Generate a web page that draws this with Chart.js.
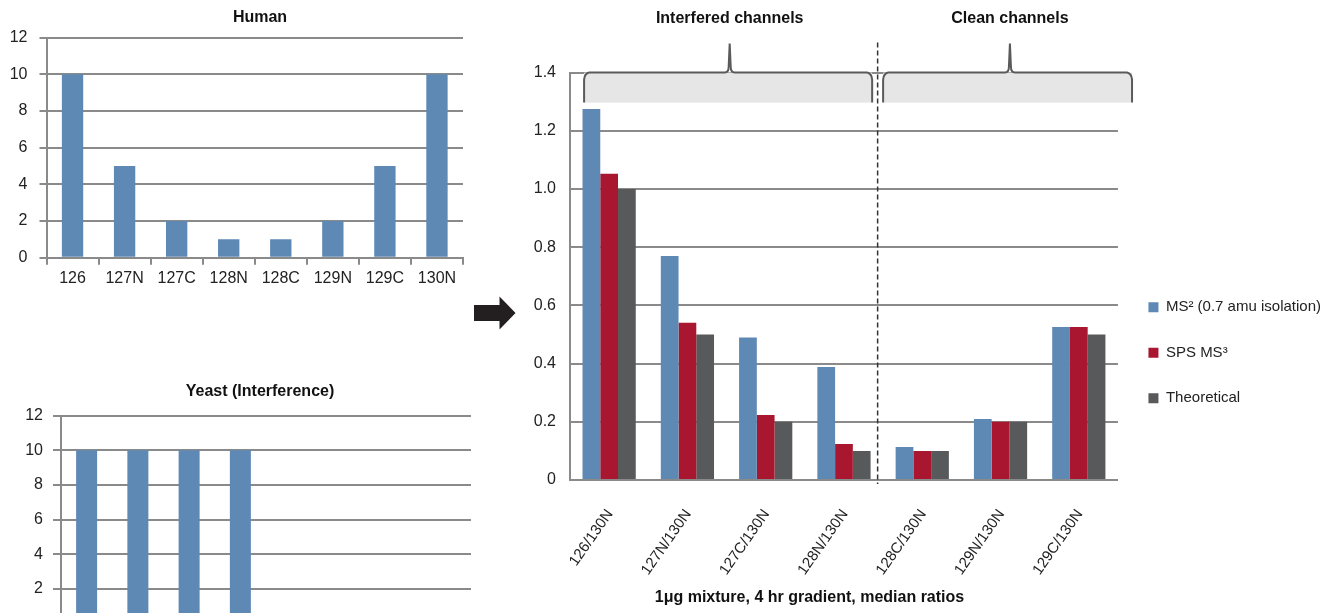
<!DOCTYPE html>
<html>
<head>
<meta charset="utf-8">
<script src="https://cdn.jsdelivr.net/npm/chart.js@4.4.1/dist/chart.umd.min.js"></script>
<style>
  html, body { margin: 0; padding: 0; background: #fff; }
  body { width: 1324px; height: 613px; overflow: hidden; position: relative; }
  canvas, svg { position: absolute; }
  #human { left: 0; top: 0; }
  #yeast { left: 0; top: 370px; }
  #ratios { left: 288px; top: 0; }
  #arrow { left: 0; top: 0; }
</style>
</head>
<body>
<canvas id="human" width="520" height="295"></canvas>
<canvas id="yeast" width="520" height="295"></canvas>
<svg id="arrow" width="530" height="340">
  <polygon points="474,305 499.5,305 499.5,296.5 515.5,313 499.5,329.5 499.5,321 474,321" fill="#231f20"/>
</svg>
<canvas id="ratios" width="1044" height="613"></canvas>
<script>
// Reporter channel intensities of the two proteomes
const channels = ['126', '127N', '127C', '128N', '128C', '129N', '129C', '130N'];
const humanValues = [10, 5, 2, 1, 1, 2, 5, 10];
const yeastValues = [10, 10, 10, 10, 0, 0, 0, 0];

// Measured and expected ratios to channel 130N
const ratioLabels = ['126/130N', '127N/130N', '127C/130N', '128N/130N', '128C/130N', '129N/130N', '129C/130N'];
const ms2Values = [1.275, 0.77, 0.49, 0.388, 0.113, 0.21, 0.526];
const spsMs3Values = [1.052, 0.54, 0.223, 0.124, 0.1, 0.2, 0.526];
const theoreticalValues = [1.0, 0.5, 0.2, 0.1, 0.1, 0.2, 0.5];
const seriesNames = ['MS\u00B2 (0.7 amu isolation)', 'SPS MS\u00B3', 'Theoretical'];

const groupNames = ['Interfered channels', 'Clean channels'];
const chartTitles = ['Human', 'Yeast (Interference)'];
const caption = '1\u03BCg mixture, 4 hr gradient, median ratios';
const smallTicks = [0, 12, 2];      // min, max, step
const ratioTicks = [0, 1.4, 0.2];

const FONT = '"Liberation Sans", Arial, sans-serif';
const GRID = '#8a8a8a';
const TEXT = '#222222';
const BLUE = '#5e89b5';
const RED = '#a8172f';
const DARK = '#58595b';

Chart.defaults.font.family = FONT;
Chart.defaults.color = TEXT;

function channelChart(id, title, values, cfg) {
  return new Chart(document.getElementById(id), {
    type: 'bar',
    data: {
      labels: channels,
      datasets: [{ data: values, backgroundColor: BLUE, borderWidth: 0,
                   barPercentage: 0.41, categoryPercentage: 1 }]
    },
    options: {
      responsive: false,
      animation: false,
      layout: { padding: 0 },
      plugins: {
        legend: { display: false },
        tooltip: { enabled: false },
        title: {
          display: true, text: title, color: '#111',
          font: { size: 16, weight: 'bold', family: FONT },
          padding: { top: cfg.titleTop, bottom: cfg.titleBottom }
        }
      },
      scales: {
        x: {
          afterFit: s => { s.height = cfg.xHeight; },
          grid: { offset: true, drawOnChartArea: false, color: GRID, lineWidth: 2, tickLength: 7 },
          border: { color: GRID, width: 2 },
          ticks: { font: { size: 16 }, padding: 4, maxRotation: 0, autoSkip: false }
        },
        y: {
          min: smallTicks[0], max: smallTicks[1],
          afterFit: s => { s.width = cfg.yWidth; },
          grid: { color: GRID, lineWidth: 2, tickLength: cfg.tick },
          border: { color: GRID, width: 2 },
          ticks: { stepSize: smallTicks[2], font: { size: 16 }, padding: cfg.pad }
        },
        // empty margin on the right so the title stays centred on the whole panel
        margin: {
          position: 'right',
          afterFit: s => { s.width = cfg.right; },
          grid: { display: false, drawTicks: false },
          border: { display: false },
          ticks: { display: false }
        }
      }
    }
  });
}

channelChart('human', chartTitles[0], humanValues,
  { right: 57, titleTop: 8, titleBottom: 10.5, xHeight: 37.3, yWidth: 46.5, tick: 7, pad: 12 });
channelChart('yeast', chartTitles[1], yeastValues,
  { right: 49, titleTop: 12.4, titleBottom: 14.1, xHeight: 41.4, yWidth: 61, tick: 8, pad: 10 });

// Bracket over each channel group, the group name above it, and the divider between groups
const bracketPlugin = {
  id: 'groupBrackets',
  afterDatasetsDraw(chart) {
    const { ctx, scales: { x, y }, chartArea } = chart;
    const yTop = y.getPixelForValue(ratioTicks[1]);
    const yBot = yTop + 30;
    const yPeak = yTop - 29;
    const spans = [[-0.32, 3.36, 1.54], [3.5, 6.68, 5.12]];
    ctx.save();
    spans.forEach((sp, i) => {
      const x0 = x.getPixelForValue(sp[0]);
      const x1 = x.getPixelForValue(sp[1]);
      const xm = x.getPixelForValue(sp[2]);
      ctx.fillStyle = '#e6e6e6';
      ctx.fillRect(x0, yTop, x1 - x0, yBot - yTop);
      ctx.beginPath();
      ctx.moveTo(x0, yBot);
      ctx.lineTo(x0, yTop + 7);
      ctx.quadraticCurveTo(x0 + 0.5, yTop + 1, x0 + 5, yTop);
      ctx.lineTo(xm - 5, yTop);
      ctx.quadraticCurveTo(xm - 1, yTop, xm - 1, yTop - 6);
      ctx.lineTo(xm, yPeak);
      ctx.lineTo(xm + 1, yTop - 6);
      ctx.quadraticCurveTo(xm + 1, yTop, xm + 5, yTop);
      ctx.lineTo(x1 - 5, yTop);
      ctx.quadraticCurveTo(x1 - 0.5, yTop + 1, x1, yTop + 7);
      ctx.lineTo(x1, yBot);
      ctx.strokeStyle = '#5a5a5a';
      ctx.lineWidth = 2;
      ctx.stroke();
      ctx.fillStyle = '#111';
      ctx.font = 'bold 16px ' + FONT;
      ctx.textAlign = 'center';
      ctx.textBaseline = 'middle';
      ctx.fillText(groupNames[i], xm, yTop - 53.6);
    });
    const xd = x.getPixelForValue(3.43);
    ctx.beginPath();
    ctx.setLineDash([5, 3]);
    ctx.moveTo(xd, yTop - 30);
    ctx.lineTo(xd, chartArea.bottom + 4);
    ctx.strokeStyle = '#333';
    ctx.lineWidth = 1.5;
    ctx.stroke();
    ctx.restore();
  }
};

// Moves the vertical legend down beside the lower half of the plot
const legendShift = {
  id: 'legendShift',
  afterLayout(chart) {
    chart.legend.top += 76.5;
    chart.legend.bottom += 76.5;
  }
};

new Chart(document.getElementById('ratios'), {
  type: 'bar',
  data: {
    labels: ratioLabels,
    datasets: [
      { label: seriesNames[0], data: ms2Values, backgroundColor: BLUE },
      { label: seriesNames[1], data: spsMs3Values, backgroundColor: RED },
      { label: seriesNames[2], data: theoreticalValues, backgroundColor: DARK }
    ]
  },
  options: {
    responsive: false,
    animation: false,
    datasets: { bar: { barPercentage: 1, categoryPercentage: 0.68, borderWidth: 0 } },
    layout: { padding: { left: 0, right: 1, top: 72.6, bottom: 0 } },
    plugins: {
      tooltip: { enabled: false },
      legend: {
        position: 'right',
        fullSize: false,
        labels: { boxWidth: 10, boxHeight: 10, padding: 30.5, color: TEXT, font: { size: 15 } }
      },
      title: {
        display: true, position: 'bottom', text: caption, color: '#111',
        font: { size: 16, weight: 'bold', family: FONT },
        padding: { top: 0, bottom: 6 }
      }
    },
    scales: {
      x: {
        afterFit: s => { s.height = 107.8; },
        grid: { display: false, drawTicks: false },
        border: { color: GRID, width: 2 },
        ticks: { font: { size: 15 }, minRotation: 55, maxRotation: 55, padding: 26,
                 labelOffset: 1, autoSkip: false }
      },
      y: {
        min: ratioTicks[0], max: ratioTicks[1],
        afterFit: s => { s.width = 282; },
        grid: { color: GRID, lineWidth: 2, drawTicks: false },
        border: { color: GRID, width: 2 },
        ticks: { stepSize: ratioTicks[2], font: { size: 16 }, padding: 14,
                 callback: v => (v === 0 ? '0' : Number(v).toFixed(1)) }
      }
    }
  },
  plugins: [bracketPlugin, legendShift]
});
</script>
</body>
</html>
